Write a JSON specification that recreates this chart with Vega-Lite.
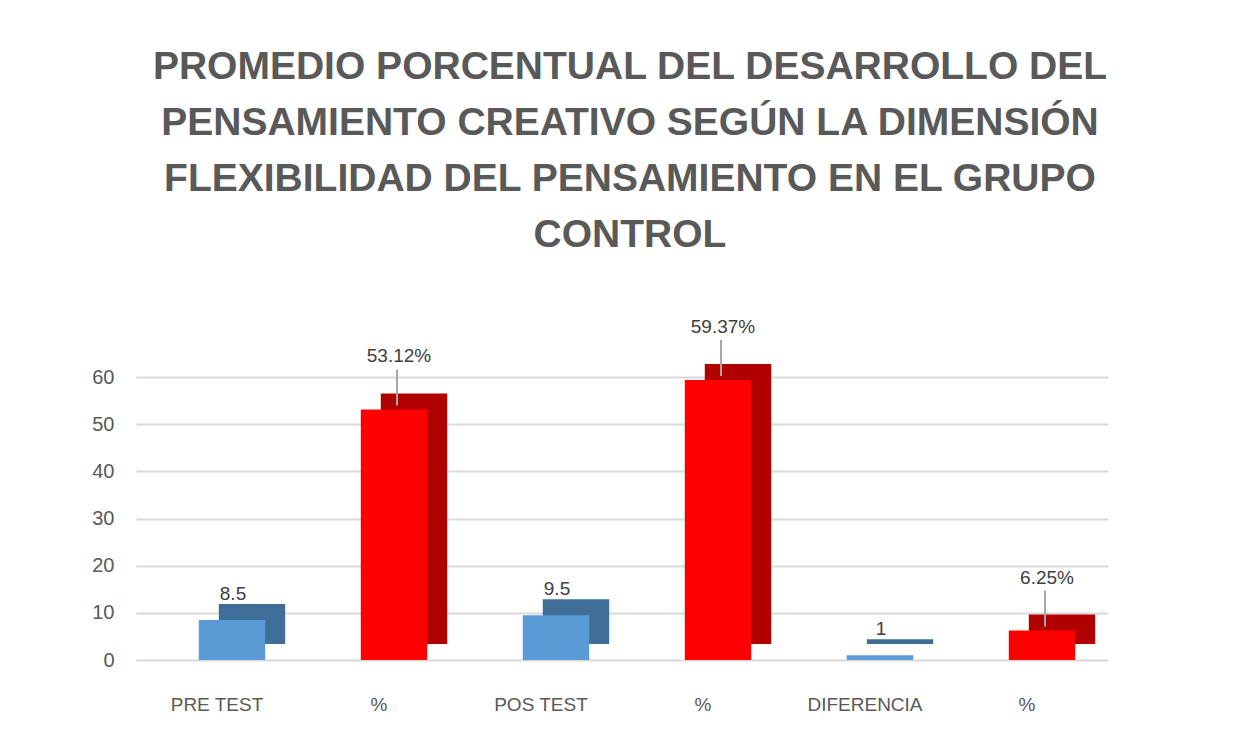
{
  "$schema": "https://vega.github.io/schema/vega-lite/v6.json",
  "width": 972,
  "height": 283,
  "autosize": {"type": "none"},
  "padding": {"left": 136, "top": 377, "right": 150, "bottom": 75},
  "background": "white",
  "config": {"view": {"stroke": null}},
  "title": {
    "text": ["PROMEDIO PORCENTUAL DEL DESARROLLO DEL", "PENSAMIENTO CREATIVO SEGÚN LA DIMENSIÓN", "FLEXIBILIDAD DEL PENSAMIENTO EN EL GRUPO", "CONTROL"],
    "font": "Liberation Sans",
    "fontSize": 39,
    "fontWeight": "bold",
    "color": "#595959",
    "lineHeight": 56,
    "anchor": "middle",
    "dx": 8,
    "offset": 63
  },
  "data": {
    "values": [
      {"key": "PRE TEST", "serie": "puntaje", "value": 8.5, "texto": "8.5"},
      {"key": "%1", "serie": "porcentaje", "value": 53.12, "texto": "53.12%"},
      {"key": "POS TEST", "serie": "puntaje", "value": 9.5, "texto": "9.5"},
      {"key": "%2", "serie": "porcentaje", "value": 59.37, "texto": "59.37%"},
      {"key": "DIFERENCIA", "serie": "puntaje", "value": 1, "texto": "1"},
      {"key": "%3", "serie": "porcentaje", "value": 6.25, "texto": "6.25%"}
    ]
  },
  "encoding": {
    "x": {
      "field": "key",
      "type": "nominal",
      "sort": null,
      "scale": {"paddingInner": 0.59, "paddingOuter": 0.295},
      "axis": {
        "title": null,
        "labelExpr": "replace(datum.label, /[0-9]$/, '')",
        "labelAngle": 0,
        "labelAlign": "center",
        "labelOverlap": false,
        "labelFont": "Liberation Sans",
        "labelFontSize": 19,
        "labelColor": "#595959",
        "labelPadding": 35,
        "domain": false,
        "ticks": false,
        "grid": false
      }
    },
    "y": {
      "field": "value",
      "type": "quantitative",
      "scale": {"domain": [0, 60]},
      "axis": {
        "title": null,
        "values": [0, 10, 20, 30, 40, 50, 60],
        "labelFont": "Liberation Sans",
        "labelFontSize": 20,
        "labelColor": "#595959",
        "labelPadding": 22,
        "labelDy": 8,
        "domain": false,
        "ticks": false,
        "grid": true,
        "gridColor": "#D9D9D9",
        "gridWidth": 2
      }
    }
  },
  "layer": [
    {
      "mark": {"type": "bar", "stroke": null, "xOffset": 35, "yOffset": -16},
      "encoding": {
        "color": {
          "condition": {"test": "datum.serie == 'puntaje'", "value": "#3F6F98"},
          "value": "#B00000"
        }
      }
    },
    {
      "mark": {"type": "bar", "stroke": null, "xOffset": 15},
      "encoding": {
        "color": {
          "condition": {"test": "datum.serie == 'puntaje'", "value": "#5B9BD5"},
          "value": "#FF0000"
        }
      }
    },
    {
      "transform": [{"filter": "datum.serie == 'porcentaje'"}],
      "mark": {"type": "rule", "color": "#A6A6A6", "strokeWidth": 2, "xOffset": 18, "yOffset": -4, "y2Offset": -40},
      "encoding": {"y2": {"field": "value"}}
    },
    {
      "transform": [{"filter": "datum.serie == 'puntaje'"}],
      "mark": {"type": "text", "dy": -26, "xOffset": 16, "font": "Liberation Sans", "fontSize": 19, "color": "#404040", "baseline": "middle"},
      "encoding": {"text": {"field": "texto"}}
    },
    {
      "transform": [{"filter": "datum.serie == 'porcentaje'"}],
      "mark": {"type": "text", "dy": -53, "xOffset": 20, "font": "Liberation Sans", "fontSize": 19, "color": "#404040", "baseline": "middle"},
      "encoding": {"text": {"field": "texto"}}
    }
  ]
}
